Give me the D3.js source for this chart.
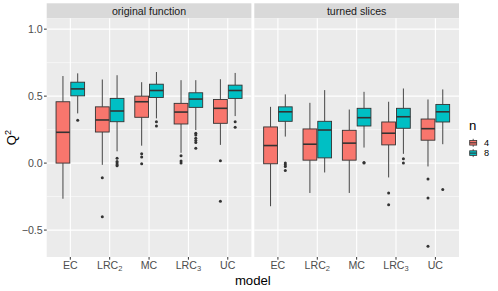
<!DOCTYPE html>
<html>
<head>
<meta charset="utf-8">
<script src="https://cdn.jsdelivr.net/npm/d3@7"></script>
<style>
  body { margin: 0; background: #fff; }
  text { font-family: "Liberation Sans", Arial, sans-serif; }
</style>
</head>
<body>
<div id="chart"></div>
<script>
const width = 498;
const height = 291;

// data
const facets = ["original function", "turned slices"];
const models = ["EC", "LRC2", "MC", "LRC3", "UC"];
const modelBase = ["EC", "LRC", "MC", "LRC", "UC"];
const modelSub = ["", "2", "", "3", ""];
const groups = ["4", "8"];
const colors = ["#F8766D", "#00BFC4"];
const yTicks = [-0.5, 0, 0.5, 1.0];
const yMinor = [-0.25, 0.25, 0.75];

// [lower whisker, q1, median, q3, upper whisker] per model
const origN4 = [
  [-0.266, 0.0, 0.23, 0.458, 0.65],
  [-0.013, 0.232, 0.322, 0.42, 0.624],
  [0.13, 0.342, 0.458, 0.5, 0.604],
  [0.077, 0.292, 0.381, 0.446, 0.619],
  [0.136, 0.297, 0.409, 0.475, 0.626]
];
const origN8 = [
  [0.371, 0.502, 0.554, 0.604, 0.67],
  [0.088, 0.309, 0.389, 0.483, 0.656],
  [0.334, 0.49, 0.542, 0.589, 0.68],
  [0.247, 0.416, 0.478, 0.525, 0.619],
  [0.351, 0.483, 0.542, 0.582, 0.673]
];
const turnN4 = [
  [-0.322, -0.005, 0.131, 0.27, 0.42],
  [-0.223, 0.022, 0.141, 0.255, 0.45],
  [-0.223, 0.022, 0.149, 0.245, 0.40],
  [-0.107, 0.136, 0.223, 0.307, 0.458],
  [-0.025, 0.171, 0.257, 0.329, 0.475]
];
const turnN8 = [
  [0.198, 0.312, 0.383, 0.42, 0.513],
  [-0.07, 0.039, 0.247, 0.312, 0.545],
  [0.116, 0.277, 0.339, 0.409, 0.532],
  [0.069, 0.26, 0.346, 0.409, 0.557],
  [0.141, 0.307, 0.383, 0.438, 0.55]
];
// outliers per model
const origOut4 = [[], [-0.11, -0.40], [0.07, 0.045, -0.005], [0.055, 0.015, 0.0], [0.017, -0.285]];
const origOut8 = [[0.32], [0.037, 0.012, 0.0, -0.013, -0.02], [0.309, 0.277],
  [0.223, 0.21, 0.186, 0.168, 0.153, 0.111], [0.309, 0.267]];
const turnOut4 = [[], [], [], [-0.223, -0.31], [-0.119, -0.26, -0.62]];
const turnOut8 = [[0.0, -0.013, -0.025, -0.055], [], [0.005, 0.0], [0.032, 0.0], [-0.198]];

const stats = [[origN4, origN8], [turnN4, turnN8]];
const outs = [[origOut4, origOut8], [turnOut4, turnOut8]];

// layout
const panelLeft = 46.7, panelW = 204.7, gap = 2.9;
const stripTop = 3.3, panelTop = 18.3, panelBottom = 257;

const svg = d3.select("#chart")
  .append("svg")
  .attr("width", width)
  .attr("height", height);

svg.append("rect").attr("width", width).attr("height", height).attr("fill", "#fff");

const y = d3.scaleLinear().domain([-0.701, 1.081]).range([panelBottom, panelTop]);
const x = d3.scalePoint().domain(models).range([0, panelW]).padding(0.6);
const step = x.step();

facets.forEach((f, fi) => {
  const x0 = panelLeft + fi * (panelW + gap);
  const g = svg.append("g").attr("transform", `translate(${x0},0)`);

  // strip
  g.append("rect").attr("x", 0).attr("y", stripTop).attr("width", panelW)
    .attr("height", panelTop - stripTop).attr("fill", "#D9D9D9");
  g.append("text").attr("x", panelW / 2).attr("y", (stripTop + panelTop) / 2)
    .attr("dy", "0.35em").attr("text-anchor", "middle")
    .attr("font-size", 10.6).attr("fill", "#1A1A1A").text(f);

  // panel
  g.append("rect").attr("x", 0).attr("y", panelTop).attr("width", panelW)
    .attr("height", panelBottom - panelTop).attr("fill", "#EBEBEB");

  g.selectAll(".minor").data(yMinor).join("line")
    .attr("x1", 0).attr("x2", panelW)
    .attr("y1", d => y(d)).attr("y2", d => y(d))
    .attr("stroke", "#fff").attr("stroke-width", 0.55);
  g.selectAll(".major").data(yTicks).join("line")
    .attr("x1", 0).attr("x2", panelW)
    .attr("y1", d => y(d)).attr("y2", d => y(d))
    .attr("stroke", "#fff").attr("stroke-width", 1.1);
  g.selectAll(".vgrid").data(models).join("line")
    .attr("x1", d => x(d)).attr("x2", d => x(d))
    .attr("y1", panelTop).attr("y2", panelBottom)
    .attr("stroke", "#fff").attr("stroke-width", 1.1);

  // boxes
  groups.forEach((gr, gi) => {
    const off = (gi === 0 ? -1 : 1) * step * 0.1875;
    const bw = step * 0.35;
    const s = stats[fi][gi];
    const o = outs[fi][gi];
    models.forEach((m, mi) => {
      const cx = x(m) + off;
      const [lo, q1, med, q3, hi] = s[mi];
      g.append("line").attr("x1", cx).attr("x2", cx)
        .attr("y1", y(hi)).attr("y2", y(q3))
        .attr("stroke", "#333").attr("stroke-width", 0.9);
      g.append("line").attr("x1", cx).attr("x2", cx)
        .attr("y1", y(q1)).attr("y2", y(lo))
        .attr("stroke", "#333").attr("stroke-width", 0.9);
      g.append("rect").attr("x", cx - bw / 2).attr("y", y(q3))
        .attr("width", bw).attr("height", y(q1) - y(q3))
        .attr("fill", colors[gi]).attr("stroke", "#333").attr("stroke-width", 0.9);
      g.append("line").attr("x1", cx - bw / 2).attr("x2", cx + bw / 2)
        .attr("y1", y(med)).attr("y2", y(med))
        .attr("stroke", "#333").attr("stroke-width", 1.6);
      g.selectAll(null).data(o[mi]).join("circle")
        .attr("cx", cx).attr("cy", d => y(d)).attr("r", 1.5)
        .attr("fill", "#333");
    });
  });

  // x axis
  const xa = g.append("g");
  models.forEach((m, mi) => {
    xa.append("line").attr("x1", x(m)).attr("x2", x(m))
      .attr("y1", panelBottom).attr("y2", panelBottom + 2.7)
      .attr("stroke", "#333").attr("stroke-width", 1);
    const t = xa.append("text").attr("x", x(m)).attr("y", panelBottom + 11.8)
      .attr("text-anchor", "middle").attr("font-size", 10.6).attr("fill", "#4D4D4D");
    t.append("tspan").text(modelBase[mi]);
    if (modelSub[mi]) {
      t.append("tspan").attr("font-size", 7.5).attr("dy", 2.5).text(modelSub[mi]);
    }
  });
});

// y axis
const ya = svg.append("g");
yTicks.forEach(v => {
  ya.append("line").attr("x1", panelLeft - 2.7).attr("x2", panelLeft)
    .attr("y1", y(v)).attr("y2", y(v))
    .attr("stroke", "#333").attr("stroke-width", 1);
  ya.append("text").attr("x", panelLeft - 4).attr("y", y(v)).attr("dy", "0.35em")
    .attr("text-anchor", "end").attr("font-size", 10.6).attr("fill", "#4D4D4D")
    .text(d3.format(".1f")(v).replace("-", "\u2212"));
});

// axis titles
const totalRight = panelLeft + 2 * panelW + gap;
svg.append("text").attr("x", (panelLeft + totalRight) / 2).attr("y", 285)
  .attr("text-anchor", "middle").attr("font-size", 13.2).attr("fill", "#000").text("model");
const qt = svg.append("text")
  .attr("transform", `translate(${16},${(panelTop + panelBottom) / 2}) rotate(-90)`)
  .attr("text-anchor", "middle").attr("font-size", 13.2).attr("fill", "#000");
qt.append("tspan").text("Q");
qt.append("tspan").attr("font-size", 9).attr("dy", -5).text("2");

// legend
const lg = svg.append("g").attr("transform", "translate(469,0)");
lg.append("text").attr("x", 0).attr("y", 129.5).attr("font-size", 13.2).attr("fill", "#000").text("n");
groups.forEach((gr, gi) => {
  const cy = 142.8 + gi * 10.3;
  lg.append("line").attr("x1", 4.2).attr("x2", 4.2).attr("y1", cy - 4).attr("y2", cy + 4)
    .attr("stroke", "#333").attr("stroke-width", 0.8);
  lg.append("rect").attr("x", 0.7).attr("y", cy - 2.3).attr("width", 7).attr("height", 4.6)
    .attr("fill", colors[gi]).attr("stroke", "#333").attr("stroke-width", 0.8);
  lg.append("line").attr("x1", 0.7).attr("x2", 7.7).attr("y1", cy).attr("y2", cy)
    .attr("stroke", "#333").attr("stroke-width", 1);
  lg.append("text").attr("x", 15).attr("y", cy).attr("dy", "0.35em")
    .attr("font-size", 9.2).attr("fill", "#000").text(gr);
});
</script>
</body>
</html>
